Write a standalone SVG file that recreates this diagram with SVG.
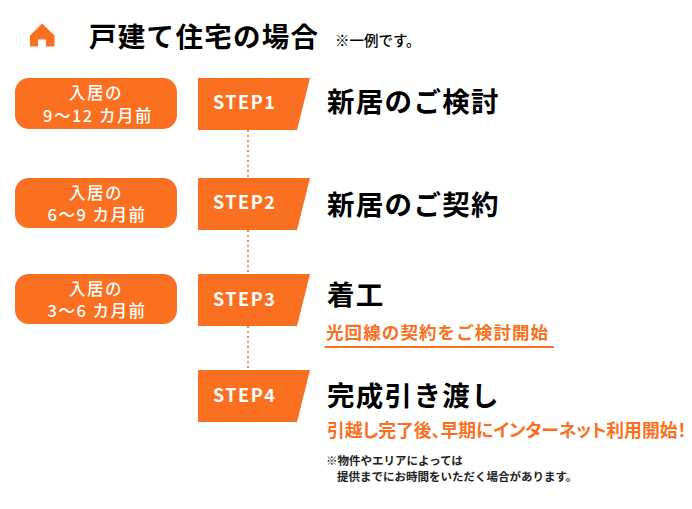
<svg xmlns="http://www.w3.org/2000/svg" width="692" height="509" viewBox="0 0 692 509">
<style>
text{font-family:"Noto Sans CJK JP","Noto Sans",sans-serif}
.pill{fill:#fb6f20}
.pt{fill:#fff;font-size:16.500px;font-weight:500;text-anchor:middle;letter-spacing:1.500px}
.st{fill:#fff;font-size:18px;font-weight:700;letter-spacing:1.500px}
.h{fill:#000;font-size:27.500px;font-weight:700;letter-spacing:1.300px}
.o{fill:#fb6f20;font-weight:700}
.dot{stroke:#fb8a4a;stroke-width:2;stroke-dasharray:2 3;fill:none}
.n{font-size:11.500px;font-weight:700;fill:#222}
</style>
<rect width="692" height="509" fill="#fff"/>
<g id="connectors">
<path class="dot" d="M248 130V178M248 230V274M248 326V370"/>
</g>
<g id="title">
<path class="pill" d="M42 23.500L54.500 35.500V46.500H46V39.500H38V46.500H30V35.500Z"/>
<text x="89" y="47" style="font-size:27.500px;font-weight:700;letter-spacing:1.300px">戸建て住宅の場合</text>
<text x="335" y="46" style="font-size:14.500px;font-weight:500">※一例です。</text>
</g>
<g id="period1">
<rect class="pill" x="15" y="78" width="162" height="51" rx="14"/>
<text class="pt" x="96" y="99">入居の</text>
<text class="pt" x="98" y="122">9〜12 カ月前</text>
</g>
<g id="period2">
<rect class="pill" x="15" y="178" width="162" height="50" rx="14"/>
<text class="pt" x="96" y="199">入居の</text>
<text class="pt" x="97" y="221">6〜9 カ月前</text>
</g>
<g id="period3">
<rect class="pill" x="15" y="274" width="162" height="50" rx="14"/>
<text class="pt" x="96" y="295">入居の</text>
<text class="pt" x="97" y="317">3〜6 カ月前</text>
</g>
<g id="step1">
<path class="pill" d="M198 78H310L297 130H198Z"/>
<text class="st" x="213" y="109">STEP1</text>
<text class="h" x="327" y="112">新居のご検討</text>
</g>
<g id="step2">
<path class="pill" d="M198 178H310L297 230H198Z"/>
<text class="st" x="213" y="209">STEP2</text>
<text class="h" x="327" y="215">新居のご契約</text>
</g>
<g id="step3">
<path class="pill" d="M198 274H310L297 326H198Z"/>
<text class="st" x="213" y="306">STEP3</text>
<text class="h" x="327" y="305">着工</text>
<text class="o" x="326" y="339" style="font-size:17.500px;letter-spacing:1.100px">光回線の契約をご検討開始</text>
<rect class="pill" x="325" y="346" width="229" height="2"/>
</g>
<g id="step4">
<path class="pill" d="M198 370H310L297 422H198Z"/>
<text class="st" x="213" y="402">STEP4</text>
<text class="h" x="327" y="406">完成引き渡し</text>
<text class="o" x="327" y="437" style="font-size:17.800px;font-feature-settings:'palt'">引越し完了後、早期にインターネット利用開始！</text>
<text class="n" x="326" y="465">※物件やエリアによっては</text>
<text class="n" x="337" y="481">提供までにお時間をいただく場合があります。</text>
</g>
</svg>
